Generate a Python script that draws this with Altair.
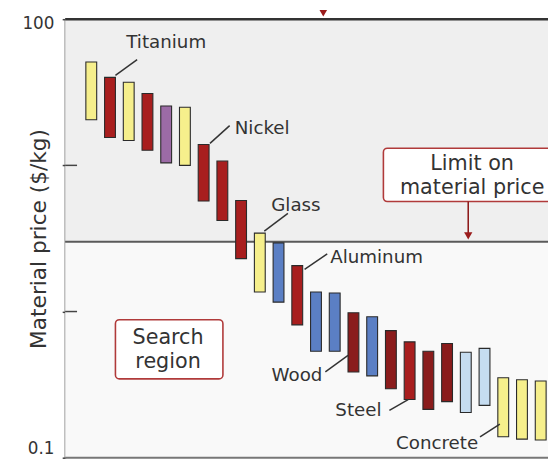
import altair as alt
import pandas as pd

# ---- data ----
bar_index = list(range(25))
price_low = [20.5, 15.5, 14.8, 12.7, 10.4, 10.0, 5.7, 4.2, 2.3, 1.36, 1.16, 0.81,
             0.535, 0.535, 0.386, 0.363, 0.296, 0.25, 0.214, 0.242, 0.204, 0.228,
             0.139, 0.134, 0.132]
price_high = [51, 40, 37, 31, 25.5, 25, 13.9, 10.7, 5.75, 3.44, 2.95, 2.06,
              1.36, 1.34, 0.98, 0.92, 0.74, 0.62, 0.535, 0.605, 0.526, 0.56,
              0.352, 0.341, 0.335]
family = ["A", "B", "A", "B", "C", "A", "B", "B", "B", "A", "D", "B", "D", "D",
          "E", "D", "E", "B", "E", "E", "F", "F", "A", "A", "A"]
family_domain = ["A", "B", "C", "D", "E", "F"]
family_colors = ["#f6ef8c", "#a81e1e", "#9c6ba6", "#5b7fc4", "#8a1c1c", "#c5dcf0"]

limit_price = 3.0
y_tick_values = [0.1, 1, 10, 100]
y_end_labels = ["100", "0.1"]
y_end_values = [100, 0.1]

label_names = ["Titanium", "Nickel", "Glass", "Aluminum", "Wood", "Steel", "Concrete"]
label_x = [1.87, 7.66, 9.61, 12.76, 12.34, 15.5, 20.66]
label_y = [63.7, 16.5, 4.85, 2.16, 0.336, 0.192, 0.115]
label_align = ["left", "left", "left", "left", "right", "right", "right"]
lead_x1 = [1.29, 6.34, 9.24, 11.39, 12.5, 15.92, 20.76]
lead_y1 = [41.3, 14.15, 3.55, 1.94, 0.386, 0.211, 0.139]
lead_x2 = [2.45, 7.39, 10.5, 12.6, 13.71, 16.92, 21.82]
lead_y2 = [52.9, 18.7, 4.70, 2.48, 0.502, 0.250, 0.170]

x_domain = [-1.395, 24.39]
W, H = 490, 445
FONT = "DejaVu Sans"
TXT = "#333333"
BOXRED = "#b03a3a"
Y_TITLE = "Material price ($/kg)"

xs = alt.Scale(domain=x_domain, nice=False, zero=False, padding=0)
ys = alt.Scale(type="log", domain=[0.1, 100], nice=False)

y_axis = alt.Axis(values=y_tick_values, grid=False, labels=False,
                  tickSize=3, tickColor="#444444",
                  tickWidth=1.5, domainColor="#444444", domainWidth=2,
                  titleFontSize=22, titleFont=FONT, titleColor=TXT, titleFontWeight="normal",
                  titleAngle=270, titleX=-20, titleY=H / 2, titleBaseline="alphabetic",
                  titleAlign="center")


def Y(field):
    return alt.Y(field, scale=ys, axis=y_axis, title=Y_TITLE)


def X(field):
    return alt.X(field, scale=xs, axis=None)


bars_df = pd.DataFrame({"i": bar_index, "low": price_low, "high": price_high, "family": family})
lab_df = pd.DataFrame({"name": label_names, "x": label_x, "y": label_y, "align": label_align})
lead_df = pd.DataFrame({"x1": lead_x1, "y1": lead_y1, "x2": lead_x2, "y2": lead_y2})

# background regions
bg_df = pd.DataFrame({"lo": [limit_price, 0.1], "hi": [100, limit_price], "zone": ["above", "below"]})
bg = alt.Chart(bg_df).mark_rect().encode(
    x=alt.value(0), x2=alt.value(W),
    y=Y("lo:Q"), y2="hi:Q",
    color=alt.Color("zone:N", scale=alt.Scale(domain=["above", "below"], range=["#efefef", "#f9f9f9"]), legend=None),
)

limit_rule = alt.Chart(pd.DataFrame({"v": [limit_price]})).mark_rule(color="#5a5a5a", strokeWidth=2).encode(
    y=Y("v:Q")
)

top_border = alt.Chart(pd.DataFrame({"v": [100]})).mark_rule(color="#333333", strokeWidth=2.5).encode(
    y=Y("v:Q")
)
bottom_border = alt.Chart(pd.DataFrame({"v": [0.1]})).mark_rule(color="#777777", strokeWidth=2).encode(
    y=Y("v:Q")
)

inner_ticks = alt.Chart(pd.DataFrame({"v": [10, 1], "a": [x_domain[0]] * 2, "b": [-0.76] * 2})).mark_rule(
    color="#444444", strokeWidth=1.5
).encode(x=X("a:Q"), x2="b:Q", y=Y("v:Q"))

# end labels of the y axis ("100" at top, "0.1" at bottom)
end_df = pd.DataFrame({"v": y_end_values, "t": y_end_labels, "x": [-1.97, -1.97]})
label_top = alt.Chart(end_df.iloc[[0]]).mark_text(
    align="right", baseline="middle", font=FONT, fontSize=17, color=TXT, yOffset=5, clip=False
).encode(x=X("x:Q"), y=Y("v:Q"), text="t:N")
label_bottom = alt.Chart(end_df.iloc[[1]]).mark_text(
    align="right", baseline="bottom", font=FONT, fontSize=17, color=TXT, clip=False
).encode(x=X("x:Q"), y=Y("v:Q"), text="t:N")

bars = alt.Chart(bars_df).mark_bar(size=11, stroke="#2a2a2a", strokeWidth=1.1).encode(
    x=X("i:Q"),
    y=Y("low:Q"),
    y2="high:Q",
    color=alt.Color("family:N", scale=alt.Scale(domain=family_domain, range=family_colors), legend=None),
)

leaders = alt.Chart(lead_df).mark_rule(color="#333333", strokeWidth=1.5).encode(
    x=X("x1:Q"), x2="x2:Q", y=Y("y1:Q"), y2="y2:Q",
)

labels_left = alt.Chart(lab_df[lab_df["align"] == "left"]).mark_text(
    align="left", baseline="alphabetic", font=FONT, fontSize=18.5, color=TXT
).encode(x=X("x:Q"), y=Y("y:Q"), text="name:N")
labels_right = alt.Chart(lab_df[lab_df["align"] == "right"]).mark_text(
    align="right", baseline="alphabetic", font=FONT, fontSize=18.5, color=TXT
).encode(x=X("x:Q"), y=Y("y:Q"), text="name:N")

# Search region box
search_box = alt.Chart(pd.DataFrame({"x1": [1.29], "x2": [7.03], "y1": [0.346], "y2": [0.879]})).mark_rect(
    fill="white", stroke=BOXRED, strokeWidth=1.6, cornerRadius=4
).encode(x=X("x1:Q"), x2="x2:Q", y=Y("y1:Q"), y2="y2:Q")
search_text = alt.Chart(pd.DataFrame({"x": [4.1], "y": [0.6], "t": ["Search\nregion"]})).mark_text(
    align="center", baseline="alphabetic", font=FONT, fontSize=21, color=TXT, lineBreak="\n", lineHeight=24
).encode(x=X("x:Q"), y=Y("y:Q"), text="t:N")

# Limit box
limit_box = alt.Chart(pd.DataFrame({"x1": [15.6], "x2": [25.5], "y1": [5.66], "y2": [13.1]})).mark_rect(
    fill="white", stroke=BOXRED, strokeWidth=1.6, cornerRadius=4, clip=True
).encode(x=X("x1:Q"), x2="x2:Q", y=Y("y1:Q"), y2="y2:Q")
limit_text = alt.Chart(pd.DataFrame({"x": [20.34], "y": [9.3], "t": ["Limit on\nmaterial price"]})).mark_text(
    align="center", baseline="alphabetic", font=FONT, fontSize=21, color=TXT, lineBreak="\n", lineHeight=24
).encode(x=X("x:Q"), y=Y("y:Q"), text="t:N")
limit_shaft = alt.Chart(pd.DataFrame({"x": [20.13], "y1": [5.66], "y2": [3.4]})).mark_rule(
    color="#8e1b1b", strokeWidth=1.6
).encode(x=X("x:Q"), y=Y("y1:Q"), y2="y2:Q")
limit_head = alt.Chart(pd.DataFrame({"x": [20.13], "y": [limit_price]})).mark_point(
    shape="triangle-down", filled=True, size=70, color="#9a1b1b", opacity=1, yOffset=-6
).encode(x=X("x:Q"), y=Y("y:Q"))

top_head = alt.Chart(pd.DataFrame({"x": [12.39], "y": [100]})).mark_point(
    shape="triangle-down", filled=True, size=60, color="#9a1b1b", opacity=1, yOffset=-6
).encode(x=X("x:Q"), y=Y("y:Q"))

chart = alt.layer(
    bg, limit_rule, top_border, bottom_border, inner_ticks, bars, leaders, labels_left, labels_right,
    search_box, search_text, limit_box, limit_text, limit_shaft, limit_head, top_head,
    label_top, label_bottom,
).resolve_scale(color="independent").properties(
    width=W, height=H,
    autosize=alt.AutoSizeParams(type="none"),
    padding={"left": 58, "top": 8, "right": 0, "bottom": 1},
    background="white",
).configure_view(strokeWidth=0)

chart.save("out.html", embed_options={"renderer": "svg", "actions": False})
